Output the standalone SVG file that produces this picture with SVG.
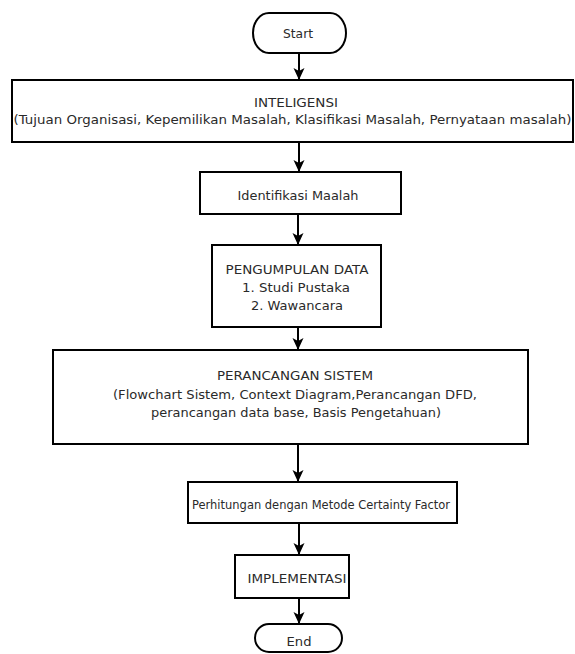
<svg xmlns="http://www.w3.org/2000/svg" width="575" height="654" viewBox="0 0 575 654">
<style>
.box{fill:#fff;stroke:#000;stroke-width:2}
.t{font-family:"DejaVu Sans",sans-serif;font-size:12.5px;fill:#2a2a2a;text-anchor:middle}
.s{font-size:11.8px}
.c{stroke:#000;stroke-width:2;fill:none;marker-end:url(#ah)}
</style>
<defs>
<marker id="ah" markerWidth="12" markerHeight="12" refX="11" refY="6" orient="auto" markerUnits="userSpaceOnUse">
<path d="M0,0.5 L12,6 L0,11.5 L3,6 Z" fill="#000"/>
</marker>
</defs>
<rect width="575" height="654" fill="#fff"/>
<g id="connectors">
<line class="c" x1="299" y1="53" x2="299" y2="79"/>
<line class="c" x1="299" y1="142" x2="299" y2="171"/>
<line class="c" x1="298" y1="214" x2="298" y2="244"/>
<line class="c" x1="298" y1="327" x2="298" y2="349"/>
<line class="c" x1="298" y1="444" x2="298" y2="481"/>
<line class="c" x1="299" y1="523" x2="299" y2="554"/>
<line class="c" x1="299" y1="598" x2="299" y2="623"/>
</g>
<g id="start">
<rect class="box" x="253" y="13" width="93" height="40" rx="16" ry="20"/>
<text class="t" x="298" y="38" textLength="30" lengthAdjust="spacingAndGlyphs">Start</text>
</g>
<g id="inteligensi">
<rect class="box" x="12" y="80" width="561" height="62"/>
<text class="t" x="296" y="107" textLength="84" lengthAdjust="spacingAndGlyphs">INTELIGENSI</text>
<text class="t" x="292.5" y="124" textLength="558" lengthAdjust="spacingAndGlyphs">(Tujuan Organisasi, Kepemilikan Masalah, Klasifikasi Masalah, Pernyataan masalah)</text>
</g>
<g id="identifikasi">
<rect class="box" x="200" y="172" width="201" height="42"/>
<text class="t" x="298" y="200" textLength="121" lengthAdjust="spacingAndGlyphs">Identifikasi Maalah</text>
</g>
<g id="pengumpulan">
<rect class="box" x="212" y="245" width="169" height="82"/>
<text class="t" x="297" y="274" textLength="143" lengthAdjust="spacingAndGlyphs">PENGUMPULAN DATA</text>
<text class="t" x="296" y="292" textLength="108" lengthAdjust="spacingAndGlyphs">1. Studi Pustaka</text>
<text class="t" x="297" y="310" textLength="92" lengthAdjust="spacingAndGlyphs">2. Wawancara</text>
</g>
<g id="perancangan">
<rect class="box" x="53" y="350" width="475" height="94"/>
<text class="t" x="295" y="380" textLength="156" lengthAdjust="spacingAndGlyphs">PERANCANGAN SISTEM</text>
<text class="t" x="295" y="399" textLength="364" lengthAdjust="spacingAndGlyphs">(Flowchart Sistem, Context Diagram,Perancangan DFD,</text>
<text class="t" x="296" y="417" textLength="290" lengthAdjust="spacingAndGlyphs">perancangan data base, Basis Pengetahuan)</text>
</g>
<g id="perhitungan">
<rect class="box" x="188" y="482" width="269" height="41"/>
<text class="t s" x="321" y="509" textLength="258" lengthAdjust="spacingAndGlyphs">Perhitungan dengan Metode Certainty Factor</text>
</g>
<g id="implementasi">
<rect class="box" x="235" y="555" width="114" height="43"/>
<text class="t" x="297" y="583" textLength="99" lengthAdjust="spacingAndGlyphs">IMPLEMENTASI</text>
</g>
<g id="end">
<rect class="box" x="255" y="624" width="87" height="28" rx="14" ry="14"/>
<text class="t" x="299" y="646" textLength="25" lengthAdjust="spacingAndGlyphs">End</text>
</g>
</svg>
